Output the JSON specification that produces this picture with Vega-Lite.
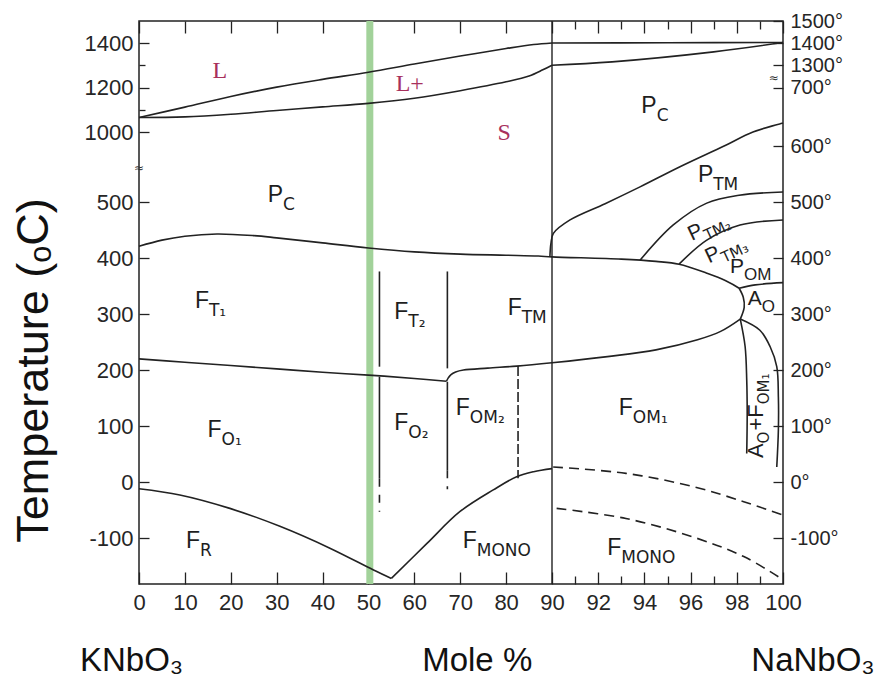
{
  "$schema": "https://vega.github.io/schema/vega-lite/v6.json",
  "width": 644,
  "height": 563,
  "autosize": {"type": "none"},
  "padding": {"left": 139, "top": 21, "right": 100, "bottom": 99},
  "background": "white",
  "config": {
    "view": {"stroke": "#222", "strokeWidth": 1.5},
    "axis": {"grid": false, "domain": false, "tickColor": "#222", "tickWidth": 1.3, "labelFont": "Liberation Sans", "labelFontSize": 22, "labelColor": "#262626", "labelFlush": false, "labelOverlap": false, "titleFont": "Liberation Sans, DejaVu Sans", "titleFontWeight": "normal", "titleColor": "#111"}
  },
  "datasets": {
    "curves": [
      {"id": "liq1", "i": 0, "x": 0, "y": 1065}, {"id": "liq1", "i": 1, "x": 10, "y": 1112}, {"id": "liq1", "i": 2, "x": 20, "y": 1160}, {"id": "liq1", "i": 3, "x": 30, "y": 1202}, {"id": "liq1", "i": 4, "x": 40, "y": 1237}, {"id": "liq1", "i": 5, "x": 50, "y": 1269}, {"id": "liq1", "i": 6, "x": 60, "y": 1306}, {"id": "liq1", "i": 7, "x": 70, "y": 1342}, {"id": "liq1", "i": 8, "x": 80, "y": 1376}, {"id": "liq1", "i": 9, "x": 86, "y": 1394}, {"id": "liq1", "i": 10, "x": 90, "y": 1401},
      {"id": "liq2", "i": 0, "x": 90, "y": 1401}, {"id": "liq2", "i": 1, "x": 95, "y": 1402}, {"id": "liq2", "i": 2, "x": 100, "y": 1403},
      {"id": "sol1", "i": 0, "x": 0, "y": 1065}, {"id": "sol1", "i": 1, "x": 10, "y": 1068}, {"id": "sol1", "i": 2, "x": 20, "y": 1080}, {"id": "sol1", "i": 3, "x": 30, "y": 1097}, {"id": "sol1", "i": 4, "x": 40, "y": 1113}, {"id": "sol1", "i": 5, "x": 50, "y": 1129}, {"id": "sol1", "i": 6, "x": 60, "y": 1152}, {"id": "sol1", "i": 7, "x": 70, "y": 1186}, {"id": "sol1", "i": 8, "x": 80, "y": 1226}, {"id": "sol1", "i": 9, "x": 85, "y": 1252}, {"id": "sol1", "i": 10, "x": 88, "y": 1280}, {"id": "sol1", "i": 11, "x": 90, "y": 1301},
      {"id": "sol2", "i": 0, "x": 90, "y": 1301}, {"id": "sol2", "i": 1, "x": 92.6, "y": 1316}, {"id": "sol2", "i": 2, "x": 97, "y": 1361}, {"id": "sol2", "i": 3, "x": 100, "y": 1403},
      {"id": "curie", "i": 0, "x": 0, "y": 421}, {"id": "curie", "i": 1, "x": 5, "y": 432}, {"id": "curie", "i": 2, "x": 10, "y": 439}, {"id": "curie", "i": 3, "x": 17, "y": 443}, {"id": "curie", "i": 4, "x": 25, "y": 440}, {"id": "curie", "i": 5, "x": 30, "y": 436}, {"id": "curie", "i": 6, "x": 40, "y": 427}, {"id": "curie", "i": 7, "x": 50, "y": 418}, {"id": "curie", "i": 8, "x": 60, "y": 411}, {"id": "curie", "i": 9, "x": 70, "y": 407}, {"id": "curie", "i": 10, "x": 80, "y": 405}, {"id": "curie", "i": 11, "x": 87, "y": 403.5}, {"id": "curie", "i": 12, "x": 90, "y": 402}, {"id": "curie", "i": 13, "x": 93, "y": 398}, {"id": "curie", "i": 14, "x": 94.5, "y": 394}, {"id": "curie", "i": 15, "x": 95.5, "y": 389}, {"id": "curie", "i": 16, "x": 96.7, "y": 373}, {"id": "curie", "i": 17, "x": 97.5, "y": 360}, {"id": "curie", "i": 18, "x": 98.1, "y": 346},
      {"id": "bulge", "i": 0, "x": 98.1, "y": 346}, {"id": "bulge", "i": 1, "x": 98.28, "y": 330}, {"id": "bulge", "i": 2, "x": 98.32, "y": 312}, {"id": "bulge", "i": 3, "x": 98.15, "y": 291},
      {"id": "ftfo1", "i": 0, "x": 0, "y": 220}, {"id": "ftfo1", "i": 1, "x": 10, "y": 214}, {"id": "ftfo1", "i": 2, "x": 20, "y": 208}, {"id": "ftfo1", "i": 3, "x": 30, "y": 202}, {"id": "ftfo1", "i": 4, "x": 40, "y": 196}, {"id": "ftfo1", "i": 5, "x": 50, "y": 191}, {"id": "ftfo1", "i": 6, "x": 60, "y": 185}, {"id": "ftfo1", "i": 7, "x": 67, "y": 180},
      {"id": "ftfo2", "i": 0, "x": 67, "y": 180}, {"id": "ftfo2", "i": 1, "x": 67.4, "y": 186}, {"id": "ftfo2", "i": 2, "x": 68, "y": 192}, {"id": "ftfo2", "i": 3, "x": 69, "y": 196.5}, {"id": "ftfo2", "i": 4, "x": 70.7, "y": 200}, {"id": "ftfo2", "i": 5, "x": 76, "y": 203.5}, {"id": "ftfo2", "i": 6, "x": 82.3, "y": 207}, {"id": "ftfo2", "i": 7, "x": 90, "y": 213}, {"id": "ftfo2", "i": 8, "x": 92.4, "y": 224}, {"id": "ftfo2", "i": 9, "x": 94.5, "y": 236}, {"id": "ftfo2", "i": 10, "x": 96.3, "y": 254}, {"id": "ftfo2", "i": 11, "x": 97.3, "y": 269}, {"id": "ftfo2", "i": 12, "x": 98.15, "y": 291},
      {"id": "fr1", "i": 0, "x": 0, "y": -12}, {"id": "fr1", "i": 1, "x": 8.9, "y": -23}, {"id": "fr1", "i": 2, "x": 19.8, "y": -47}, {"id": "fr1", "i": 3, "x": 30.7, "y": -79}, {"id": "fr1", "i": 4, "x": 41.6, "y": -118}, {"id": "fr1", "i": 5, "x": 51.1, "y": -157}, {"id": "fr1", "i": 6, "x": 55, "y": -172},
      {"id": "fr2", "i": 0, "x": 55, "y": -172}, {"id": "fr2", "i": 1, "x": 62.7, "y": -110}, {"id": "fr2", "i": 2, "x": 69.9, "y": -53}, {"id": "fr2", "i": 3, "x": 77.2, "y": -14}, {"id": "fr2", "i": 4, "x": 82.3, "y": 9.5}, {"id": "fr2", "i": 5, "x": 86, "y": 18.5}, {"id": "fr2", "i": 6, "x": 90, "y": 24},
      {"id": "ptm", "i": 0, "x": 89.55, "y": 403.6}, {"id": "ptm", "i": 1, "x": 89.77, "y": 426}, {"id": "ptm", "i": 2, "x": 90.06, "y": 444}, {"id": "ptm", "i": 3, "x": 90.78, "y": 468}, {"id": "ptm", "i": 4, "x": 92.3, "y": 497}, {"id": "ptm", "i": 5, "x": 93.81, "y": 527}, {"id": "ptm", "i": 6, "x": 95.54, "y": 563}, {"id": "ptm", "i": 7, "x": 97.45, "y": 600}, {"id": "ptm", "i": 8, "x": 98.7, "y": 1000}, {"id": "ptm", "i": 9, "x": 100, "y": 1040},
      {"id": "ptm2", "i": 0, "x": 93.81, "y": 396}, {"id": "ptm2", "i": 1, "x": 95.25, "y": 459}, {"id": "ptm2", "i": 2, "x": 96.7, "y": 498}, {"id": "ptm2", "i": 3, "x": 98.1, "y": 512}, {"id": "ptm2", "i": 4, "x": 100, "y": 518},
      {"id": "ptm3", "i": 0, "x": 95.5, "y": 389}, {"id": "ptm3", "i": 1, "x": 96.7, "y": 432}, {"id": "ptm3", "i": 2, "x": 98.14, "y": 459}, {"id": "ptm3", "i": 3, "x": 100, "y": 468},
      {"id": "pom", "i": 0, "x": 98.1, "y": 346}, {"id": "pom", "i": 1, "x": 98.8, "y": 352}, {"id": "pom", "i": 2, "x": 100, "y": 356},
      {"id": "aol", "i": 0, "x": 98.15, "y": 291}, {"id": "aol", "i": 1, "x": 98.36, "y": 242}, {"id": "aol", "i": 2, "x": 98.43, "y": 182}, {"id": "aol", "i": 3, "x": 98.45, "y": 123}, {"id": "aol", "i": 4, "x": 98.43, "y": 51},
      {"id": "aor", "i": 0, "x": 98.15, "y": 291}, {"id": "aor", "i": 1, "x": 99, "y": 271}, {"id": "aor", "i": 2, "x": 99.44, "y": 242}, {"id": "aor", "i": 3, "x": 99.73, "y": 206}, {"id": "aor", "i": 4, "x": 99.8, "y": 152}, {"id": "aor", "i": 5, "x": 99.8, "y": 93}, {"id": "aor", "i": 6, "x": 99.73, "y": 27}
    ],
    "rdash": [
      {"id": "d1", "i": 0, "x": 90.05, "y": 27}, {"id": "d1", "i": 1, "x": 93.2, "y": 15.5}, {"id": "d1", "i": 2, "x": 96.1, "y": -8}, {"id": "d1", "i": 3, "x": 98.3, "y": -35}, {"id": "d1", "i": 4, "x": 100, "y": -59},
      {"id": "d2", "i": 0, "x": 90.2, "y": -47}, {"id": "d2", "i": 1, "x": 93.2, "y": -65}, {"id": "d2", "i": 2, "x": 96.1, "y": -98}, {"id": "d2", "i": 3, "x": 98.3, "y": -133}, {"id": "d2", "i": 4, "x": 99.8, "y": -169}
    ],
    "vsolid": [
      {"id": "v1a", "i": 0, "x": 52.4, "y": 376}, {"id": "v1a", "i": 1, "x": 52.4, "y": 206},
      {"id": "v1b", "i": 0, "x": 52.4, "y": 188}, {"id": "v1b", "i": 1, "x": 52.4, "y": 6},
      {"id": "v2a", "i": 0, "x": 67.2, "y": 376}, {"id": "v2a", "i": 1, "x": 67.2, "y": 203},
      {"id": "v2b", "i": 0, "x": 67.2, "y": 179}, {"id": "v2b", "i": 1, "x": 67.2, "y": 21}
    ],
    "vdash": [
      {"id": "v1c", "i": 0, "x": 52.4, "y": 6}, {"id": "v1c", "i": 1, "x": 52.4, "y": -53},
      {"id": "v2c", "i": 0, "x": 67.2, "y": 21}, {"id": "v2c", "i": 1, "x": 67.2, "y": -13}
    ],
    "vfine": [
      {"id": "v3", "i": 0, "x": 82.6, "y": 207}, {"id": "v3", "i": 1, "x": 82.6, "y": 7}
    ],
    "green": [{"x": 50.3}],
    "border": [{"x": 90}],
    "big": [
      {"m": "P", "s": "C", "x": 31.4, "y": 500.5},
      {"m": "P", "s": "C", "x": 94.53, "y": 1084},
      {"m": "P", "s": "TM", "x": 96.98, "y": 536},
      {"m": "F", "s": "T₁", "x": 15.25, "y": 311},
      {"m": "F", "s": "T₂", "x": 58.7, "y": 292},
      {"m": "F", "s": "TM", "x": 83.4, "y": 298},
      {"m": "F", "s": "O₁", "x": 18.0, "y": 81},
      {"m": "F", "s": "O₂", "x": 58.7, "y": 93},
      {"m": "F", "s": "OM₂", "x": 72.1, "y": 120},
      {"m": "F", "s": "OM₁", "x": 93.5, "y": 120},
      {"m": "F", "s": "R", "x": 13.3, "y": -118},
      {"m": "F", "s": "MONO", "x": 73.6, "y": -117},
      {"m": "F", "s": "MONO", "x": 93.0, "y": -130}
    ],
    "small": [
      {"m": "P", "s": "OM", "x": 98.31, "y": 373},
      {"m": "A", "s": "O", "x": 99.08, "y": 316}
    ],
    "tilted": [
      {"m": "P", "s": "TM₂", "x": 96.6, "y": 441},
      {"m": "P", "s": "TM₃", "x": 97.35, "y": 401}
    ],
    "upright": [
      {"m": "A", "s": "O", "x": 99.13, "y": 69},
      {"m": "+F", "s": "OM₁", "x": 99.13, "y": 139}
    ],
    "red": [
      {"t": "L", "x": 17.6, "y": 1275},
      {"t": "L+", "x": 59.0, "y": 1216},
      {"t": "S", "x": 79.6, "y": 963}
    ],
    "breaks": [
      {"t": "≈", "x": 0, "y": 561},
      {"t": "≈", "x": 99.6, "y": 1243}
    ],
    "compounds": [
      {"t": "KNbO₃", "x": -1.6, "y": -320},
      {"t": "Mole %", "x": 73.7, "y": -320},
      {"t": "NaNbO₃", "x": 101.3, "y": -320}
    ]
  },
  "resolve": {"axis": {"x": "independent", "y": "independent"}},
  "layer": [
    {
      "data": {"name": "green"},
      "mark": {"type": "rule", "color": "#a2d29a", "strokeWidth": 7},
      "encoding": {
        "x": {"field": "x", "type": "quantitative", "scale": {"domain": [0, 90, 100], "range": [0, 413, 644], "nice": false, "zero": false},
              "axis": {"orient": "top", "values": [0, 10, 20, 30, 40, 50, 60, 70, 80, 90, 92, 94, 96, 98, 100], "labels": false, "tickSize": -12, "title": null}}
      }
    },
    {
      "data": {"name": "border"},
      "mark": {"type": "rule", "color": "#222", "strokeWidth": 1.4},
      "encoding": {
        "x": {"field": "x", "type": "quantitative", "scale": {"domain": [0, 90, 100], "range": [0, 413, 644], "nice": false, "zero": false},
              "axis": {"orient": "top", "values": [91, 93, 95, 97, 99], "labels": false, "tickSize": -8, "title": null}}
      }
    },
    {
      "data": {"name": "curves"},
      "mark": {"type": "line", "interpolate": "catmull-rom", "color": "#222", "strokeWidth": 1.6},
      "encoding": {
        "x": {"field": "x", "type": "quantitative", "scale": {"domain": [0, 90, 100], "range": [0, 413, 644], "nice": false, "zero": false},
              "axis": {"orient": "bottom", "values": [0, 10, 20, 30, 40, 50, 60, 70, 80, 90, 92, 94, 96, 98, 100], "tickSize": -12, "labelPadding": 20, "title": null}},
        "y": {"field": "y", "type": "quantitative", "scale": {"domain": [-182, 600, 1000, 1500], "range": [563, 125, 111, 0], "nice": false, "zero": false},
              "axis": {"orient": "left", "values": [-100, 0, 100, 200, 300, 400, 500, 1000, 1200, 1400], "labelExpr": "'' + datum.value", "tickSize": -10, "labelPadding": 16, "title": "Temperature (ₒC)", "titleFontSize": 45, "titlePadding": 28, "titleY": 349}},
        "detail": {"field": "id"},
        "order": {"field": "i"}
      }
    },
    {
      "data": {"name": "vsolid"},
      "mark": {"type": "line", "color": "#222", "strokeWidth": 1.6},
      "encoding": {
        "x": {"field": "x", "type": "quantitative", "scale": {"domain": [0, 90, 100], "range": [0, 413, 644], "nice": false, "zero": false},
              "axis": {"orient": "bottom", "values": [91, 93, 95, 97, 99], "labels": false, "tickSize": -8, "title": null}},
        "y": {"field": "y", "type": "quantitative", "scale": {"domain": [-182, 600, 1000, 1500], "range": [563, 125, 111, 0], "nice": false, "zero": false},
              "axis": {"orient": "left", "values": [1100, 1300], "labels": false, "tickSize": -6, "title": null}},
        "detail": {"field": "id"},
        "order": {"field": "i"}
      }
    },
    {
      "data": {"name": "vdash"},
      "mark": {"type": "line", "color": "#222", "strokeWidth": 1.6, "strokeDash": [8, 8]},
      "encoding": {
        "x": {"field": "x", "type": "quantitative", "scale": {"domain": [0, 90, 100], "range": [0, 413, 644], "nice": false, "zero": false}, "axis": null},
        "y": {"field": "y", "type": "quantitative", "scale": {"domain": [-182, 600, 1000, 1500], "range": [563, 125, 111, 0], "nice": false, "zero": false},
              "axis": {"orient": "right", "values": [-100, 0, 100, 200, 300, 400, 500, 600, 1200, 1300, 1400, 1500], "labelExpr": "datum.value == 1200 ? '700°' : datum.value + '°'", "labelFontSize": 20, "tickSize": -10, "labelPadding": 17, "title": null}},
        "detail": {"field": "id"},
        "order": {"field": "i"}
      }
    },
    {
      "data": {"name": "vfine"},
      "mark": {"type": "line", "color": "#222", "strokeWidth": 1.6, "strokeDash": [10, 3]},
      "encoding": {
        "x": {"field": "x", "type": "quantitative", "scale": {"domain": [0, 90, 100], "range": [0, 413, 644], "nice": false, "zero": false}, "axis": null},
        "y": {"field": "y", "type": "quantitative", "scale": {"domain": [-182, 600, 1000, 1500], "range": [563, 125, 111, 0], "nice": false, "zero": false}, "axis": null},
        "detail": {"field": "id"},
        "order": {"field": "i"}
      }
    },
    {
      "data": {"name": "rdash"},
      "mark": {"type": "line", "interpolate": "catmull-rom", "color": "#222", "strokeWidth": 1.6, "strokeDash": [10, 6]},
      "encoding": {
        "x": {"field": "x", "type": "quantitative", "scale": {"domain": [0, 90, 100], "range": [0, 413, 644], "nice": false, "zero": false}, "axis": null},
        "y": {"field": "y", "type": "quantitative", "scale": {"domain": [-182, 600, 1000, 1500], "range": [563, 125, 111, 0], "nice": false, "zero": false}, "axis": null},
        "detail": {"field": "id"},
        "order": {"field": "i"}
      }
    },
    {
      "data": {"name": "big"},
      "mark": {"type": "text", "align": "right", "baseline": "alphabetic", "font": "Liberation Sans", "fontSize": 23, "color": "#1e1e1e"},
      "encoding": {
        "x": {"field": "x", "type": "quantitative", "scale": {"domain": [0, 90, 100], "range": [0, 413, 644], "nice": false, "zero": false}, "axis": null},
        "y": {"field": "y", "type": "quantitative", "scale": {"domain": [-182, 600, 1000, 1500], "range": [563, 125, 111, 0], "nice": false, "zero": false}, "axis": null},
        "text": {"field": "m"}
      }
    },
    {
      "data": {"name": "big"},
      "mark": {"type": "text", "align": "left", "baseline": "alphabetic", "font": "DejaVu Sans", "fontSize": 17, "dy": 8, "color": "#1e1e1e"},
      "encoding": {
        "x": {"field": "x", "type": "quantitative", "scale": {"domain": [0, 90, 100], "range": [0, 413, 644], "nice": false, "zero": false}, "axis": null},
        "y": {"field": "y", "type": "quantitative", "scale": {"domain": [-182, 600, 1000, 1500], "range": [563, 125, 111, 0], "nice": false, "zero": false}, "axis": null},
        "text": {"field": "s"}
      }
    },
    {
      "data": {"name": "small"},
      "mark": {"type": "text", "align": "right", "baseline": "alphabetic", "font": "Liberation Sans", "fontSize": 21, "color": "#1e1e1e"},
      "encoding": {
        "x": {"field": "x", "type": "quantitative", "scale": {"domain": [0, 90, 100], "range": [0, 413, 644], "nice": false, "zero": false}, "axis": null},
        "y": {"field": "y", "type": "quantitative", "scale": {"domain": [-182, 600, 1000, 1500], "range": [563, 125, 111, 0], "nice": false, "zero": false}, "axis": null},
        "text": {"field": "m"}
      }
    },
    {
      "data": {"name": "small"},
      "mark": {"type": "text", "align": "left", "baseline": "alphabetic", "font": "Liberation Sans", "fontSize": 17, "dy": 7, "color": "#1e1e1e"},
      "encoding": {
        "x": {"field": "x", "type": "quantitative", "scale": {"domain": [0, 90, 100], "range": [0, 413, 644], "nice": false, "zero": false}, "axis": null},
        "y": {"field": "y", "type": "quantitative", "scale": {"domain": [-182, 600, 1000, 1500], "range": [563, 125, 111, 0], "nice": false, "zero": false}, "axis": null},
        "text": {"field": "s"}
      }
    },
    {
      "data": {"name": "tilted"},
      "mark": {"type": "text", "align": "right", "baseline": "alphabetic", "font": "Liberation Sans", "fontSize": 21, "angle": 335, "color": "#1e1e1e"},
      "encoding": {
        "x": {"field": "x", "type": "quantitative", "scale": {"domain": [0, 90, 100], "range": [0, 413, 644], "nice": false, "zero": false}, "axis": null},
        "y": {"field": "y", "type": "quantitative", "scale": {"domain": [-182, 600, 1000, 1500], "range": [563, 125, 111, 0], "nice": false, "zero": false}, "axis": null},
        "text": {"field": "m"}
      }
    },
    {
      "data": {"name": "tilted"},
      "mark": {"type": "text", "align": "left", "baseline": "alphabetic", "font": "DejaVu Sans", "fontSize": 15, "dy": 6, "angle": 335, "color": "#1e1e1e"},
      "encoding": {
        "x": {"field": "x", "type": "quantitative", "scale": {"domain": [0, 90, 100], "range": [0, 413, 644], "nice": false, "zero": false}, "axis": null},
        "y": {"field": "y", "type": "quantitative", "scale": {"domain": [-182, 600, 1000, 1500], "range": [563, 125, 111, 0], "nice": false, "zero": false}, "axis": null},
        "text": {"field": "s"}
      }
    },
    {
      "data": {"name": "upright"},
      "mark": {"type": "text", "align": "right", "baseline": "alphabetic", "font": "Liberation Sans", "fontSize": 22, "angle": 270, "color": "#1e1e1e"},
      "encoding": {
        "x": {"field": "x", "type": "quantitative", "scale": {"domain": [0, 90, 100], "range": [0, 413, 644], "nice": false, "zero": false}, "axis": null},
        "y": {"field": "y", "type": "quantitative", "scale": {"domain": [-182, 600, 1000, 1500], "range": [563, 125, 111, 0], "nice": false, "zero": false}, "axis": null},
        "text": {"field": "m"}
      }
    },
    {
      "data": {"name": "upright"},
      "mark": {"type": "text", "align": "left", "baseline": "alphabetic", "font": "DejaVu Sans", "fontSize": 15, "dy": 6, "angle": 270, "color": "#1e1e1e"},
      "encoding": {
        "x": {"field": "x", "type": "quantitative", "scale": {"domain": [0, 90, 100], "range": [0, 413, 644], "nice": false, "zero": false}, "axis": null},
        "y": {"field": "y", "type": "quantitative", "scale": {"domain": [-182, 600, 1000, 1500], "range": [563, 125, 111, 0], "nice": false, "zero": false}, "axis": null},
        "text": {"field": "s"}
      }
    },
    {
      "data": {"name": "red"},
      "mark": {"type": "text", "align": "center", "baseline": "middle", "font": "Liberation Serif", "fontSize": 24, "color": "#a8305c"},
      "encoding": {
        "x": {"field": "x", "type": "quantitative", "scale": {"domain": [0, 90, 100], "range": [0, 413, 644], "nice": false, "zero": false}, "axis": null},
        "y": {"field": "y", "type": "quantitative", "scale": {"domain": [-182, 600, 1000, 1500], "range": [563, 125, 111, 0], "nice": false, "zero": false}, "axis": null},
        "text": {"field": "t"}
      }
    },
    {
      "data": {"name": "breaks"},
      "mark": {"type": "text", "align": "center", "baseline": "middle", "font": "DejaVu Sans", "fontSize": 12, "color": "#333"},
      "encoding": {
        "x": {"field": "x", "type": "quantitative", "scale": {"domain": [0, 90, 100], "range": [0, 413, 644], "nice": false, "zero": false}, "axis": null},
        "y": {"field": "y", "type": "quantitative", "scale": {"domain": [-182, 600, 1000, 1500], "range": [563, 125, 111, 0], "nice": false, "zero": false}, "axis": null},
        "text": {"field": "t"}
      }
    },
    {
      "data": {"name": "compounds"},
      "mark": {"type": "text", "align": "center", "baseline": "middle", "font": "Liberation Sans, DejaVu Sans", "fontSize": 33, "color": "#111"},
      "encoding": {
        "x": {"field": "x", "type": "quantitative", "scale": {"domain": [0, 90, 100], "range": [0, 413, 644], "nice": false, "zero": false}, "axis": null},
        "y": {"field": "y", "type": "quantitative", "scale": {"domain": [-182, 600, 1000, 1500], "range": [563, 125, 111, 0], "nice": false, "zero": false}, "axis": null},
        "text": {"field": "t"}
      }
    }
  ]
}
